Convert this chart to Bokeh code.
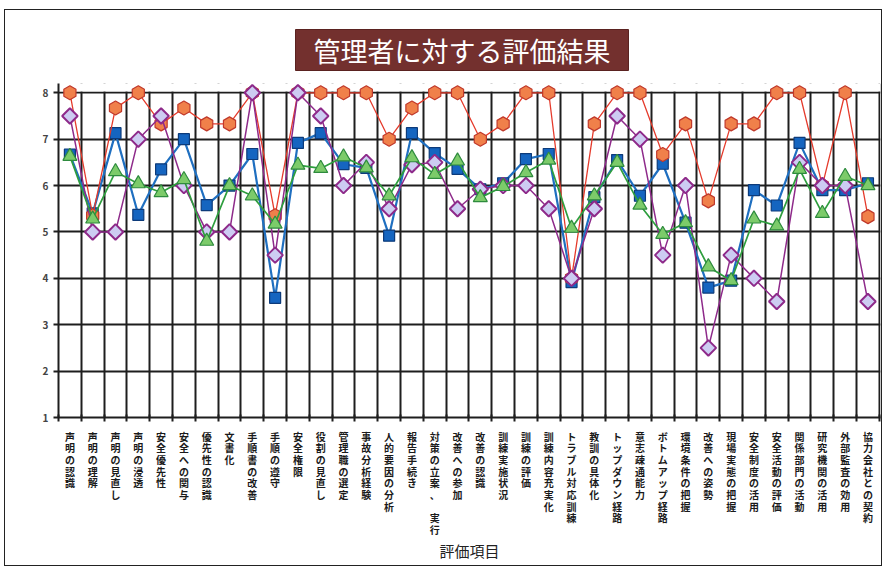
import math
from bokeh.plotting import figure
from bokeh.models import Range1d, FixedTicker, BoxAnnotation
from bokeh.embed import file_html
from bokeh.resources import INLINE

# ---------------- data ----------------
categories = [
    "声明の認識", "声明の理解", "声明の見直し", "声明の浸透", "安全優先性", "安全への関与",
    "優先性の認識", "文書化", "手順書の改善", "手順の遵守", "安全権限", "役割の見直し",
    "管理職の選定", "事故分析経験", "人的要因の分析", "報告手続き", "対策の立案、 実行", "改善への参加",
    "改善の認識", "訓練実施状況", "訓練の評価", "訓練内容充実化", "トラブル対応訓練", "教訓の具体化",
    "トップダウン経路", "意志疎通能力", "ボトムアップ経路", "環境条件の把握", "改善への姿勢", "現場実態の把握",
    "安全制度の活用", "安全活動の評価", "関係部門の活動", "研究機関の活用", "外部監査の効用", "協力会社との契約",
]

red_values = [8, 5.35, 7.67, 8, 7.33, 7.67, 7.33, 7.33, 8, 5.35, 8, 8,
              8, 8, 7.0, 7.67, 8, 8, 7.0, 7.33, 8, 8, 4.0, 7.33,
              8, 8, 6.67, 7.33, 5.67, 7.33, 7.33, 8, 8, 6.0, 8, 5.33]

blue_values = [6.67, 5.4, 7.13, 5.37, 6.35, 7.0, 5.58, 6.0, 6.68, 3.58, 6.92, 7.13,
               6.46, 6.38, 4.92, 7.13, 6.7, 6.36, 5.92, 6.05, 6.57, 6.68, 3.92, 5.75,
               6.55, 5.78, 6.47, 5.2, 3.8, 3.95, 5.9, 5.57, 6.92, 5.9, 5.9, 6.05]

green_values = [6.63, 5.28, 6.3, 6.04, 5.85, 6.13, 4.8, 6.0, 5.78, 5.17, 6.44, 6.37,
                6.62, 6.38, 5.78, 6.6, 6.24, 6.53, 5.74, 5.98, 6.28, 6.55, 5.08, 5.78,
                6.5, 5.58, 4.95, 5.2, 4.25, 3.95, 5.28, 5.13, 6.35, 5.4, 6.2, 6.0]

purple_values = [7.5, 5.0, 5.0, 7.0, 7.5, 6.0, 5.0, 5.0, 8.0, 4.5, 8.0, 7.5,
                 6.0, 6.5, 5.5, 6.45, 6.5, 5.5, 5.92, 6.0, 6.0, 5.5, 4.0, 5.5,
                 7.5, 7.0, 4.5, 6.0, 2.5, 4.5, 4.0, 3.5, 6.5, 6.0, 6.0, 3.5]

y_ticks = [1, 2, 3, 4, 5, 6, 7, 8]
title_text = "管理者に対する評価結果"
x_title = "評価項目"

# ---------------- figure ----------------
n = len(categories)
xs = [i + 0.5 for i in range(n)]
JP = "Noto Sans CJK JP"

p = figure(width=878, height=557, x_range=Range1d(0, n + 0.05), y_range=Range1d(1, 8.2),
           output_backend="svg", toolbar_location=None,
           min_border_left=53, min_border_right=3, min_border_top=73, min_border_bottom=150)
p.margin = (9, 0, 0, 4)
p.styles = {"border": "1.5px solid #222222"}
p.outline_line_color = None
p.background_fill_color = "white"
p.border_fill_color = "white"

# title
p.title.text = title_text
p.title.align = "left"
p.title.offset = 237
p.title.vertical_align = "top"
p.title.text_font = JP
p.title.text_font_size = "27px"
p.title.text_font_style = "normal"
p.title.text_color = "white"
p.title.text_line_height = 0.9
p.title.background_fill_color = "#73302e"
p.title.border_line_color = "#5a2220"
p.title.padding = (18, 1)
p.title.standoff = 22

# grid
p.xgrid.ticker = FixedTicker(ticks=list(range(0, n + 1)))
p.ygrid.ticker = FixedTicker(ticks=y_ticks)
p.xgrid.grid_line_color = "#1e1e1e"
p.ygrid.grid_line_color = "#1e1e1e"
p.xgrid.grid_line_width = 2
p.ygrid.grid_line_width = 2

# mask grid stubs above the top gridline (so markers at 8 are not clipped)
p.add_layout(BoxAnnotation(bottom=8.03, fill_color="white", fill_alpha=1.0,
                           line_color=None, level="underlay"))

# x axis
p.xaxis.ticker = FixedTicker(ticks=xs, minor_ticks=list(range(0, n + 1)))
p.xaxis.major_label_overrides = {x: "\n".join(list(c)) for x, c in zip(xs, categories)}
p.xaxis.major_tick_in = 0
p.xaxis.major_tick_out = 0
p.xaxis.minor_tick_in = 3
p.xaxis.minor_tick_out = 4
p.xaxis.minor_tick_line_width = 2
p.xaxis.minor_tick_line_color = "#1e1e1e"
p.xaxis.axis_line_width = 2
p.xaxis.axis_line_color = "#1e1e1e"
p.xaxis.major_label_text_font = JP
p.xaxis.major_label_text_font_size = "10px"
p.xaxis.major_label_text_font_style = "bold"
p.xaxis.major_label_text_line_height = 0.78
p.xaxis.major_label_text_color = "#1a1a1a"
p.xaxis.major_label_standoff = 7
p.xaxis.axis_label = x_title
p.xaxis.axis_label_text_font = JP
p.xaxis.axis_label_text_font_size = "15px"
p.xaxis.axis_label_text_font_style = "normal"
p.xaxis.axis_label_text_line_height = 0.75
p.xaxis.axis_label_text_color = "#222222"
p.xaxis.axis_label_standoff = 0

# y axis
p.yaxis.ticker = FixedTicker(ticks=y_ticks)
p.yaxis.minor_tick_line_color = None
p.yaxis.major_tick_in = 0
p.yaxis.major_tick_out = 5
p.yaxis.major_tick_line_width = 2
p.yaxis.major_tick_line_color = "#1e1e1e"
p.yaxis.axis_line_width = 2
p.yaxis.axis_line_color = "#1e1e1e"
p.yaxis.major_label_text_font = JP
p.yaxis.major_label_text_font_size = "10px"
p.yaxis.major_label_text_font_style = "bold"
p.yaxis.major_label_standoff = 5

# ---------------- series ----------------
# blue
p.line(xs, blue_values, line_color="#1f6fc0", line_width=2.2)
p.scatter(xs, blue_values, marker="square", size=11, fill_color="#1565c0",
          line_color="#0d3b7a", line_width=1.2)
# red
p.line(xs, red_values, line_color="#e53b2c", line_width=1.3)
p.scatter(xs, red_values, marker="hex", size=14, angle=math.pi / 6, fill_color="#f0804a",
          line_color="#c0392b", line_width=1.2)
# purple
p.line(xs, purple_values, line_color="#8e2a8a", line_width=1.5)
p.scatter(xs, purple_values, marker="square", size=11, angle=math.pi / 4, fill_color="#cdccf2",
          line_color="#8e2a8a", line_width=2)
# green
p.line(xs, green_values, line_color="#2e9e3e", line_width=1.7)
p.scatter(xs, green_values, marker="triangle", size=14, fill_color="#7ccb6a",
          line_color="#2e8b3e", line_width=1.2)

open("out.html", "w").write(file_html(p, INLINE))
